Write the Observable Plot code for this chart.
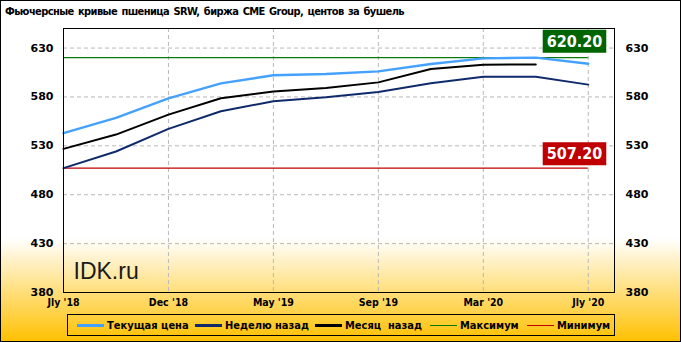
<!DOCTYPE html>
<html>
<head>
<meta charset="utf-8">
<script src="https://cdn.jsdelivr.net/npm/d3@7"></script>
<script src="https://cdn.jsdelivr.net/npm/@observablehq/plot@0.6"></script>
<style>
  html, body { margin: 0; padding: 0; background: #fff; }
  #wrap { position: relative; width: 681px; height: 342px; overflow: hidden;
          background: linear-gradient(to bottom, #ffffff 0px, #ffffff 238px, #ffc000 342px); }
  #border { position: absolute; left: 0; top: 0; width: 681px; height: 342px; box-sizing: border-box;
            border: 1px solid #000; pointer-events: none; }
  #title { position: absolute; left: 5px; top: 5px; font: bold 11px "DejaVu Sans Condensed", "DejaVu Sans", sans-serif;
           letter-spacing: -0.6px; word-spacing: 1.5px; white-space: pre; color: #000; }
  #chart { position: absolute; left: 0; top: 0; }
  #legend { position: absolute; left: 67px; top: 314px; width: 548px; height: 22px; box-sizing: border-box;
            border: 1px solid #000; font: bold 11px "DejaVu Sans Condensed", "DejaVu Sans", sans-serif; color: #000; }
  .li { position: absolute; top: 3px; white-space: pre; display: flex; align-items: center; height: 14px; }
  .sw { display: inline-block; width: 27px; margin-right: 3px; }
</style>
</head>
<body>
<div id="wrap">
  <div id="title"></div>
  <div id="chart"></div>
  <div id="legend"></div>
  <div id="border"></div>
</div>
<script>
// ---- data ----
const title = "Фьючерсные кривые пшеница SRW, биржа CME Group, центов за бушель";
const contracts = ["Jly '18", "Sep '18", "Dec '18", "Mar '19", "May '19", "Jly '19", "Sep '19", "Dec '19", "Mar '20", "May '20", "Jly '20"];
const currentPrice = [542.9, 558.6, 578.6, 593.9, 602.2, 603.5, 606.1, 613.7, 619.4, 620.2, 614.0];
const weekAgo      = [507.2, 524.2, 547.3, 565.3, 575.6, 579.6, 585.0, 593.9, 600.7, 600.7, 592.6];
const monthAgo     = [526.9, 541.5, 561.9, 578.6, 585.5, 589.2, 594.9, 608.6, 613.0, 613.3];
const maxValue = 620.20;
const minValue = 507.20;
const yTicks = [380, 430, 480, 530, 580, 630];
const xTickIdx = [0, 2, 4, 6, 8, 10];
const legendNames = ["Текущая цена", "Неделю назад", "Месяц  назад", "Максимум", "Минимум"];
const watermark = "IDK.ru";

// ---- styles ----
const colors = ["#45a1ff", "#0f2a6b", "#000000", "#0a7a0a", "#c00000"];
const widths = [2.4, 2, 2, 1.2, 1.2];
const boxFill = {max: "#006400", min: "#c00000"};

document.getElementById("title").textContent = title;

const toPts = arr => arr.map((v, i) => ({i, v}));
const lastIdx = contracts.length - 1;
const labelStyle = {x: () => lastIdx, y: d => d, text: d => d.toFixed(2), textAnchor: "end", dx: 14,
  fill: "#fff", fontWeight: "bold", fontSize: 16, fontFamily: "'DejaVu Sans Condensed', sans-serif"};

const plot = Plot.plot({
  width: 681,
  height: 312,
  marginTop: 28,
  marginBottom: 20,
  marginLeft: 63,
  marginRight: 67,
  style: {background: "transparent", fontFamily: "'DejaVu Sans', sans-serif", fontSize: "11px", color: "#000", overflow: "visible"},
  x: {domain: [0, lastIdx + 0.5], ticks: xTickIdx},
  y: {domain: [380, 650], ticks: yTicks},
  marks: [
    Plot.gridY(yTicks.filter(t => t > 380), {stroke: "#b8b8b8", strokeOpacity: 1, strokeDasharray: "4,3"}),
    Plot.gridX(xTickIdx.filter(t => t > 0), {stroke: "#b8b8b8", strokeOpacity: 1, strokeDasharray: "4,3"}),
    Plot.axisY(yTicks, {anchor: "left", tickSize: 0, tickPadding: 10, fontWeight: "bold", fontSize: 11, label: null}),
    Plot.axisY(yTicks, {anchor: "right", tickSize: 0, tickPadding: 11, fontWeight: "bold", fontSize: 11, label: null}),
    Plot.axisX(xTickIdx, {anchor: "bottom", tickSize: 0, tickPadding: 6, fontWeight: "bold", fontSize: 10.5,
      fontFamily: "'DejaVu Sans Condensed', sans-serif", tickFormat: i => contracts[i], label: null}),
    Plot.ruleY([maxValue], {x1: 0, x2: lastIdx, stroke: colors[3], strokeWidth: widths[3]}),
    Plot.ruleY([minValue], {x1: 0, x2: lastIdx, stroke: colors[4], strokeWidth: widths[4]}),
    Plot.line(toPts(weekAgo), {x: "i", y: "v", stroke: colors[1], strokeWidth: widths[1]}),
    Plot.line(toPts(monthAgo), {x: "i", y: "v", stroke: colors[2], strokeWidth: widths[2]}),
    Plot.line(toPts(currentPrice), {x: "i", y: "v", stroke: colors[0], strokeWidth: widths[0]}),
    Plot.frame({stroke: "#000", strokeWidth: 1}),
    Plot.text([watermark], {frameAnchor: "bottom-left", dx: 10, dy: -14, text: d => d, textAnchor: "start",
      lineAnchor: "bottom", fontSize: 23, fontFamily: "'Liberation Sans', Arial, sans-serif", fill: "#1a1a1a"}),
    Plot.text([maxValue], {...labelStyle, dy: -16}),
    Plot.text([minValue], {...labelStyle, dy: -14})
  ]
});
document.getElementById("chart").appendChild(plot);

// backgrounds behind value labels
plot.querySelectorAll("text").forEach(t => {
  const s = t.textContent;
  let fill = null;
  if (s === maxValue.toFixed(2)) fill = boxFill.max;
  if (s === minValue.toFixed(2)) fill = boxFill.min;
  if (!fill) return;
  const b = t.getBBox();
  const r = document.createElementNS("http://www.w3.org/2000/svg", "rect");
  r.setAttribute("x", b.x - 4); r.setAttribute("y", b.y - 2);
  r.setAttribute("width", b.width + 8); r.setAttribute("height", b.height + 4);
  r.setAttribute("fill", fill);
  const tr = t.getAttribute("transform");
  if (tr) r.setAttribute("transform", tr);
  t.parentNode.insertBefore(r, t);
});

// legend
const legend = document.getElementById("legend");
const legendX = [77, 195, 315, 430, 527];
legendNames.forEach((name, k) => {
  const item = document.createElement("div");
  item.className = "li";
  item.style.left = (legendX[k] - 68) + "px";
  const sw = document.createElement("span");
  sw.className = "sw";
  sw.style.borderTop = `${k < 3 ? 3 : 1}px solid ${colors[k]}`;
  item.appendChild(sw);
  item.appendChild(document.createTextNode(name));
  legend.appendChild(item);
});
</script>
</body>
</html>
